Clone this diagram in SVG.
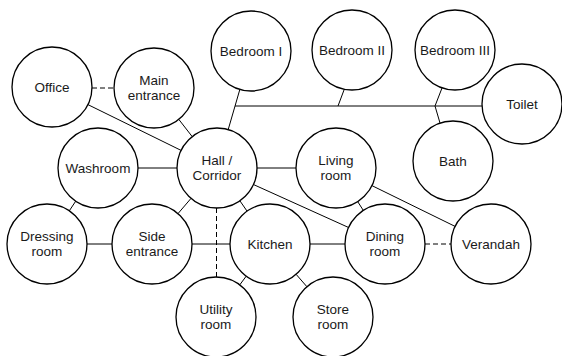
<svg xmlns="http://www.w3.org/2000/svg" width="562" height="356" viewBox="0 0 562 356">
<style>
.n circle{fill:#fff;stroke:#000;stroke-width:1.3}
.n text{font-family:"Liberation Sans",Arial,sans-serif;font-size:13.5px;fill:#1a1a1a;text-anchor:middle}
.c line{stroke:#000;stroke-width:1;fill:none}
.c .d{stroke-dasharray:5 3}
</style>
<rect width="562" height="356" fill="#fff"/>
<g class="c" id="connectors">
<line class="d" x1="92" y1="88" x2="114" y2="88"/>
<line x1="87.9" y1="104.6" x2="181.1" y2="150.4"/>
<line x1="178.8" y1="119.4" x2="192.2" y2="136.6"/>
<line x1="228.2" y1="129.6" x2="239.8" y2="89.6"/>
<line x1="235" y1="106" x2="482" y2="106"/>
<line x1="344" y1="90" x2="338" y2="106"/>
<line x1="442" y1="88" x2="435" y2="106"/>
<line x1="435" y1="106" x2="440" y2="123"/>
<line x1="138" y1="168" x2="177" y2="168"/>
<line x1="257" y1="168" x2="296" y2="168"/>
<line x1="75.7" y1="201.2" x2="69.3" y2="210.8"/>
<line x1="191" y1="198.4" x2="178" y2="213.6"/>
<line x1="87" y1="244" x2="112" y2="244"/>
<line x1="192" y1="244" x2="230" y2="244"/>
<line x1="239.9" y1="200.8" x2="247.1" y2="211.2"/>
<line class="d" x1="216.5" y1="208" x2="216.5" y2="277"/>
<line x1="253.4" y1="184.5" x2="348.6" y2="227.5"/>
<line x1="357.7" y1="201.6" x2="363.3" y2="210.4"/>
<line x1="371.9" y1="185.6" x2="455.1" y2="226.4"/>
<line x1="310" y1="244" x2="345" y2="244"/>
<line class="d" x1="425" y1="244" x2="451" y2="244"/>
<line x1="246.2" y1="276.2" x2="239.8" y2="284.8"/>
<line x1="296.1" y1="274.3" x2="306.9" y2="286.7"/>
</g>
<g class="n" id="office"><circle cx="52" cy="87" r="40"/><text x="52" y="91.5">Office</text></g>
<g class="n" id="main-entrance"><circle cx="154" cy="88" r="40"/><text x="154" y="84.5">Main<tspan x="154" dy="15.2">entrance</tspan></text></g>
<g class="n" id="bedroom-1"><circle cx="251" cy="51" r="40"/><text x="251" y="55.5">Bedroom I</text></g>
<g class="n" id="bedroom-2"><circle cx="352" cy="50" r="40"/><text x="352" y="54.5">Bedroom II</text></g>
<g class="n" id="bedroom-3"><circle cx="455" cy="50" r="40"/><text x="455" y="54.5">Bedroom III</text></g>
<g class="n" id="toilet"><circle cx="522" cy="104" r="40"/><text x="522" y="108.5">Toilet</text></g>
<g class="n" id="hall"><circle cx="217" cy="168" r="40"/><text x="217" y="164.5">Hall /<tspan x="217" dy="15.2">Corridor</tspan></text></g>
<g class="n" id="washroom"><circle cx="98" cy="168" r="40"/><text x="98" y="172.5">Washroom</text></g>
<g class="n" id="living"><circle cx="336" cy="168" r="40"/><text x="336" y="164.5">Living<tspan x="336" dy="15.2">room</tspan></text></g>
<g class="n" id="bath"><circle cx="453" cy="161" r="40"/><text x="453" y="165.5">Bath</text></g>
<g class="n" id="dressing"><circle cx="47" cy="244" r="40"/><text x="47" y="240.5">Dressing<tspan x="47" dy="15.2">room</tspan></text></g>
<g class="n" id="side-entrance"><circle cx="152" cy="244" r="40"/><text x="152" y="240.5">Side<tspan x="152" dy="15.2">entrance</tspan></text></g>
<g class="n" id="kitchen"><circle cx="270" cy="244" r="40"/><text x="270" y="248.5">Kitchen</text></g>
<g class="n" id="dining"><circle cx="385" cy="244" r="40"/><text x="385" y="240.5">Dining<tspan x="385" dy="15.2">room</tspan></text></g>
<g class="n" id="verandah"><circle cx="491" cy="244" r="40"/><text x="491" y="248.5">Verandah</text></g>
<g class="n" id="utility"><circle cx="216" cy="317" r="40"/><text x="216" y="313.5">Utility<tspan x="216" dy="15.2">room</tspan></text></g>
<g class="n" id="store"><circle cx="333" cy="317" r="40"/><text x="333" y="313.5">Store<tspan x="333" dy="15.2">room</tspan></text></g>
</svg>
